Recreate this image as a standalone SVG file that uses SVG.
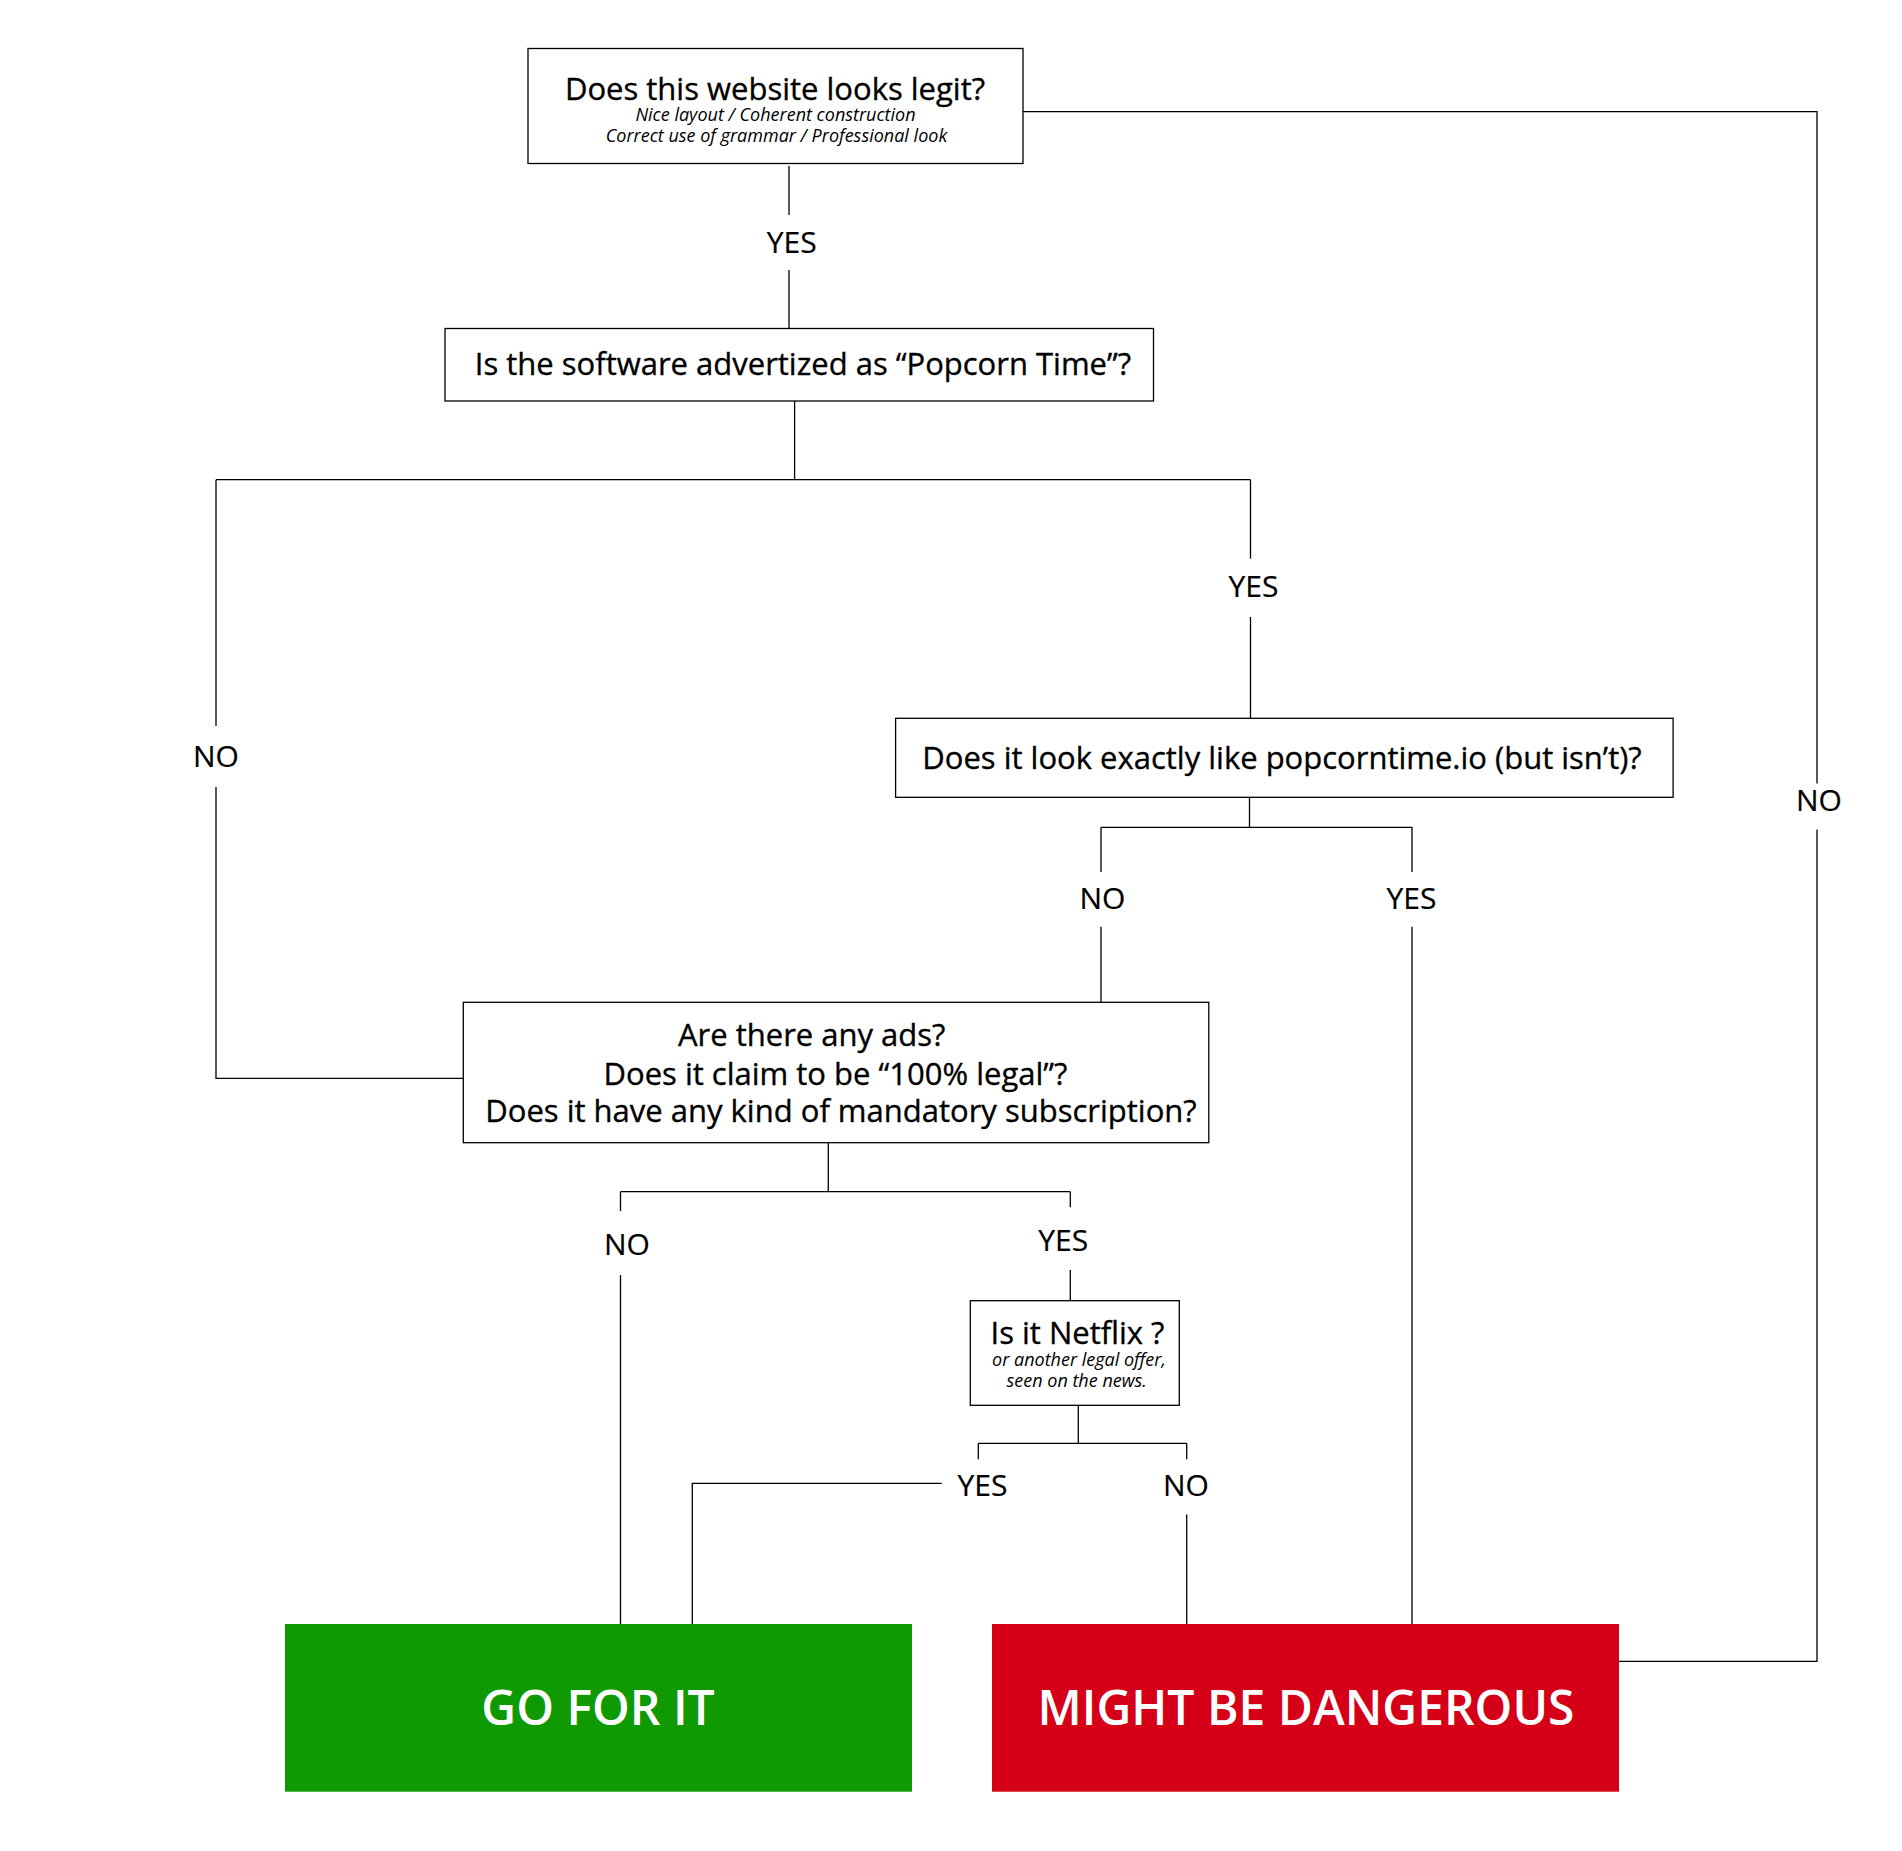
<svg xmlns="http://www.w3.org/2000/svg" width="1902" height="1851" viewBox="0 0 1902 1851">
<style>
.box{fill:#fff;stroke:#000;stroke-width:1.3}
.t{font-family:"Open Sans","Noto Sans","DejaVu Sans",sans-serif;font-size:31px;font-weight:500;fill:#000;stroke:#000;stroke-width:0.35;text-anchor:middle}
.i{font-family:"Open Sans","Noto Sans","DejaVu Sans",sans-serif;font-size:18px;font-style:italic;fill:#000;text-anchor:middle}
.lab{font-family:"Open Sans","Noto Sans","DejaVu Sans",sans-serif;font-size:30px;fill:#000;stroke:#000;stroke-width:0.2;text-anchor:middle}
.big{font-family:"Open Sans","Noto Sans","DejaVu Sans",sans-serif;font-size:48px;font-weight:600;fill:#fff;text-anchor:middle}
.c{fill:none;stroke:#000;stroke-width:1.3}
</style>
<rect width="1902" height="1851" fill="#fff"/>
<g id="connectors">
<path class="c" d="M789 166V215M789 270V328.5"/>
<path class="c" d="M794.6 401V479.7M216 479.7H1250.5M216 479.7V726M216 787V1078.3H463.3M1250.5 479.7V558.7M1250.5 617V718.3"/>
<path class="c" d="M1249.5 797.3V827.3M1101 827.3H1412.5M1101 827.3V872M1101 926.7V1002.3M1412 827.3V872M1412 926.7V1624"/>
<path class="c" d="M828.3 1142.7V1191.7M620.5 1191.7H1070.3M620.5 1191.7V1211M620.5 1275V1624M1070.3 1191.7V1207.3M1070.3 1270V1300.7"/>
<path class="c" d="M1078.3 1405.3V1443.3M978.3 1443.3H1186.7M978.3 1443.3V1459.3M941.7 1483.3H692.3V1624M1186.7 1443.3V1459.3M1186.7 1514.5V1624"/>
<path class="c" d="M1619 1661.3H1817V829.5M1817 783.4V111.7H1023"/>
<text class="lab" x="791.7" y="252.7">YES</text>
<text class="lab" x="216" y="766.5">NO</text>
<text class="lab" x="1253.5" y="597">YES</text>
<text class="lab" x="1102.5" y="908.5">NO</text>
<text class="lab" x="1411.5" y="908.5">YES</text>
<text class="lab" x="627" y="1254.5">NO</text>
<text class="lab" x="1063.3" y="1250.7">YES</text>
<text class="lab" x="982.5" y="1496">YES</text>
<text class="lab" x="1186" y="1496">NO</text>
<text class="lab" x="1819" y="811">NO</text>
</g>
<g id="n-legit">
<rect class="box" x="528" y="48.5" width="495" height="115"/>
<text class="t" x="775" y="99.5">Does this website looks legit?</text>
<text class="i" x="775.5" y="121">Nice layout / Coherent construction</text>
<text class="i" x="776.5" y="142">Correct use of grammar / Professional look</text>
</g>
<g id="n-popcorn">
<rect class="box" x="445" y="328.5" width="708.5" height="72.5"/>
<text class="t" x="803" y="374.5">Is the software advertized as “Popcorn Time”?</text>
</g>
<g id="n-lookalike">
<rect class="box" x="895.6" y="718.3" width="777.5" height="79"/>
<text class="t" x="1282" y="769">Does it look exactly like popcorntime.io (but isn’t)?</text>
</g>
<g id="n-ads">
<rect class="box" x="463.3" y="1002.3" width="745.5" height="140.4"/>
<text class="t" x="811.7" y="1045.7">Are there any ads?</text>
<text class="t" x="835.5" y="1084.5">Does it claim to be “100% legal”?</text>
<text class="t" x="841" y="1121.5">Does it have any kind of mandatory subscription?</text>
</g>
<g id="n-netflix">
<rect class="box" x="970.3" y="1300.7" width="209" height="104.6"/>
<text class="t" x="1077.5" y="1344">Is it Netflix ?</text>
<text class="i" x="1079" y="1366">or another legal offer,</text>
<text class="i" x="1076.7" y="1386.5">seen on the news.</text>
</g>
<g id="n-go">
<rect x="285" y="1624" width="627" height="167.7" fill="#0f9903"/>
<text class="big" x="598" y="1725">GO FOR IT</text>
</g>
<g id="n-danger">
<rect x="992" y="1624" width="627" height="167.7" fill="#d50017"/>
<text class="big" x="1306" y="1725">MIGHT BE DANGEROUS</text>
</g>
</svg>
